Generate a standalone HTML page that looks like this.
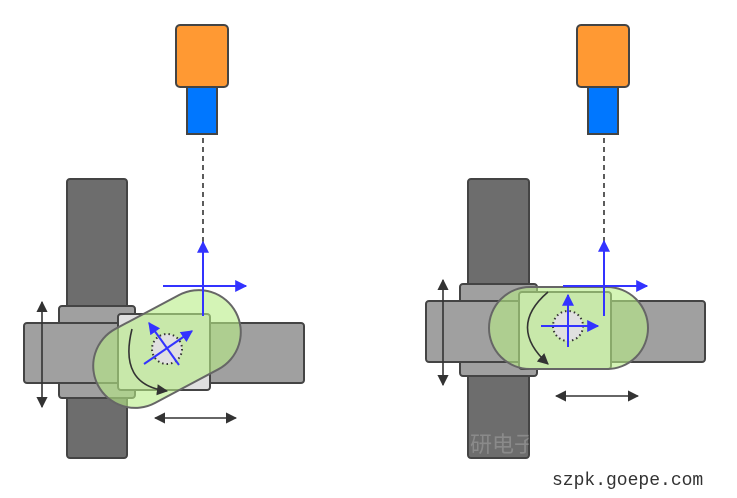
<!DOCTYPE html>
<html><head><meta charset="utf-8"><style>html,body{margin:0;padding:0;background:#fff}svg{display:block}</style></head>
<body>
<svg width="737" height="498" viewBox="0 0 737 498" xmlns="http://www.w3.org/2000/svg">
<defs>
<marker id="bk" viewBox="0 0 10 10" refX="9" refY="5" markerWidth="7" markerHeight="7" orient="auto-start-reverse"><path d="M0,0 L10,5 L0,10 z" fill="#333"/></marker>
<marker id="bl" viewBox="0 0 10 10" refX="9" refY="5" markerWidth="6" markerHeight="6" orient="auto"><path d="M0,0 L10,5 L0,10 z" fill="#3333ff"/></marker>
<clipPath id="cb"><rect x="468" y="376" width="61" height="82"/></clipPath>
</defs>
<g stroke="#444" stroke-width="2">
<!-- LEFT -->
<rect x="176" y="25" width="52" height="62" rx="4" fill="#ff9933"/>
<rect x="187" y="87" width="30" height="47" fill="#0077ff"/>
<rect x="67" y="179" width="60" height="279" rx="3" fill="#6d6d6d"/>
<rect x="59" y="306" width="76" height="92" rx="3" fill="#a0a0a0"/>
<rect x="24" y="323" width="280" height="60" rx="3" fill="#a0a0a0"/>
<rect x="118" y="314" width="92" height="76" rx="3" fill="#e0e0e0"/>
<rect x="-78" y="-42" width="156" height="84" rx="42" fill="#b8ec85" fill-opacity="0.6" stroke="#666" transform="translate(167,349) rotate(-28)"/>
<circle cx="167" cy="349" r="15" fill="#e0e0e0" stroke="#333" stroke-dasharray="1.5,3"/>
<!-- RIGHT -->
<rect x="577" y="25" width="52" height="62" rx="4" fill="#ff9933"/>
<rect x="588" y="87" width="30" height="47" fill="#0077ff"/>
<rect x="468" y="179" width="61" height="279" rx="3" fill="#6d6d6d"/>
<rect x="460" y="284" width="77" height="92" rx="3" fill="#a0a0a0"/>
<rect x="426" y="301" width="279" height="61" rx="3" fill="#a0a0a0"/>
<rect x="519" y="292" width="92" height="77" rx="3" fill="#e0e0e0"/>
<rect x="489" y="287" width="159" height="82" rx="41" fill="#b8ec85" fill-opacity="0.6" stroke="#666"/>
<circle cx="568" cy="326" r="15" fill="#e0e0e0" stroke="#333" stroke-dasharray="1.5,3"/>
</g>
<g stroke="#333" stroke-width="1.6" fill="none">
<line x1="203" y1="138" x2="203" y2="250" stroke-dasharray="5,4"/>
<line x1="604" y1="138" x2="604" y2="250" stroke-dasharray="5,4"/>
<line x1="42" y1="302" x2="42" y2="407" marker-start="url(#bk)" marker-end="url(#bk)"/>
<line x1="155" y1="418" x2="236" y2="418" marker-start="url(#bk)" marker-end="url(#bk)"/>
<line x1="443" y1="280" x2="443" y2="385" marker-start="url(#bk)" marker-end="url(#bk)"/>
<line x1="556" y1="396" x2="638" y2="396" marker-start="url(#bk)" marker-end="url(#bk)"/>
<path d="M132,329 Q118,385 167,391" marker-end="url(#bk)"/>
<path d="M548,292 Q507,327 548,364" marker-end="url(#bk)"/>
</g>
<g stroke="#3333ff" stroke-width="2" fill="none">
<line x1="203" y1="316" x2="203" y2="242" marker-end="url(#bl)"/>
<line x1="163" y1="286" x2="246" y2="286" marker-end="url(#bl)"/>
<line x1="144" y1="364" x2="192" y2="331" marker-end="url(#bl)"/>
<line x1="179" y1="365" x2="149" y2="323" marker-end="url(#bl)"/>
<line x1="604" y1="316" x2="604" y2="241" marker-end="url(#bl)"/>
<line x1="563" y1="286" x2="647" y2="286" marker-end="url(#bl)"/>
<line x1="568" y1="347" x2="568" y2="295" marker-end="url(#bl)"/>
<line x1="541" y1="326" x2="598" y2="326" marker-end="url(#bl)"/>
</g>
<text x="470" y="452" clip-path="url(#cb)" font-family="'Liberation Sans','Noto Sans CJK SC',sans-serif" font-size="22" fill="#ffffff" fill-opacity="0.2">研电子</text>
<text x="552" y="485" font-family="'Liberation Mono',monospace" font-size="18" fill="#333">szpk.goepe.com</text>
</svg>
</body></html>
